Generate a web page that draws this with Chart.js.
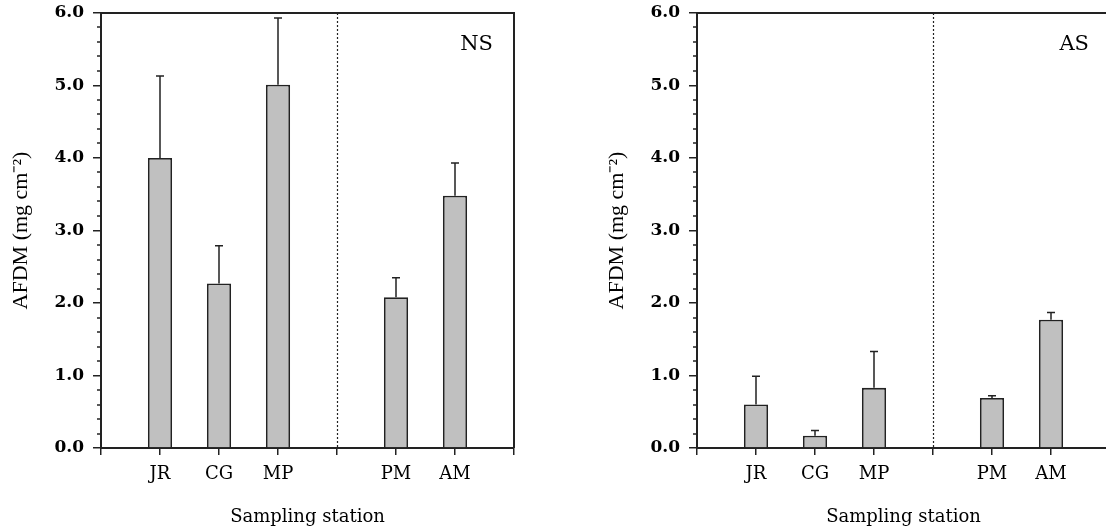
<!DOCTYPE html>
<html>
<head>
<meta charset="utf-8">
<script src="https://cdn.jsdelivr.net/npm/chart.js@4/dist/chart.umd.min.js"></script>
<style>
  body { margin: 0; background: #fff; overflow: hidden; width: 1106px; height: 532px; position: relative; }
  .panel { position: absolute; top: 0; width: 553px; height: 532px; }
</style>
</head>
<body>
<div class="panel" style="left:0"><canvas id="chartNS" width="553" height="532"></canvas></div>
<div class="panel" style="left:596px"><canvas id="chartAS" width="553" height="532"></canvas></div>
<script>
// stations on a 0..7 axis, gap at 4 splits the two groups
const stations = ["JR", "CG", "MP", "PM", "AM"]
const stationPos = [1, 2, 3, 5, 6]
const dividerAt = 4

const afdmNS = [4.00, 2.27, 5.01, 2.08, 3.48]
const sdNS = [1.13, 0.52, 0.92, 0.27, 0.45]
const afdmAS = [0.60, 0.17, 0.83, 0.69, 1.77]
const sdAS = [0.39, 0.07, 0.50, 0.03, 0.10]

const yMax = 6
const minorStep = 0.2

const ink = '#222'

const panelExtras = {
    id: 'panelExtras',
    afterDraw(chart, args, opts) {
        const ctx = chart.ctx
        const {left, right, top, bottom} = chart.chartArea
        const xs = chart.scales.x
        const ys = chart.scales.y
        ctx.save()

        // error bars (upper only)
        ctx.strokeStyle = ink
        ctx.lineWidth = 1.5
        const pts = chart.data.datasets[0].data
        pts.forEach((p, i) => {
            const px = xs.getPixelForValue(p.x)
            const y0 = ys.getPixelForValue(p.y)
            const y1 = ys.getPixelForValue(p.y + opts.sd[i])
            ctx.beginPath()
            ctx.moveTo(px, y0)
            ctx.lineTo(px, y1)
            ctx.moveTo(px - 4, y1)
            ctx.lineTo(px + 4, y1)
            ctx.stroke()
        })

        // frame top + right
        ctx.lineWidth = 2
        ctx.beginPath()
        ctx.moveTo(left, top)
        ctx.lineTo(right, top)
        ctx.lineTo(right, bottom)
        ctx.stroke()

        // minor y ticks
        ctx.lineWidth = 1.5
        for (let v = minorStep; v < yMax; v += minorStep) {
            if (Math.abs(v - Math.round(v)) < 1e-6) continue
            const py = Math.round(ys.getPixelForValue(v))
            ctx.beginPath()
            ctx.moveTo(left - 4, py)
            ctx.lineTo(left, py)
            ctx.stroke()
        }

        // dotted divider between groups
        const dx = Math.round(xs.getPixelForValue(dividerAt)) + 0.5
        ctx.lineWidth = 1.2
        ctx.setLineDash([2, 2])
        ctx.beginPath()
        ctx.moveTo(dx, top)
        ctx.lineTo(dx, bottom)
        ctx.stroke()
        ctx.setLineDash([])

        // panel name
        ctx.fillStyle = '#000'
        ctx.font = '21px "DejaVu Serif"'
        ctx.textAlign = 'right'
        ctx.textBaseline = 'middle'
        ctx.fillText(opts.name, right - 21, top + 32)

        ctx.restore()
    }
}

function buildChart(id, values, sd, name) {
    let points = values.map((v, i) => ({x: stationPos[i], y: v}))
    new Chart(document.getElementById(id), {
        type: 'bar',
        data: {
            datasets: [{
                data: points,
                backgroundColor: '#c0c0c0',
                borderColor: ink,
                borderWidth: 1.8,
                categoryPercentage: 1,
                barPercentage: 0.41
            }]
        },
        options: {
            responsive: false,
            animation: false,
            layout: {autoPadding: false, padding: {top: 13, right: 39, left: 0, bottom: 0}},
            plugins: {
                legend: {display: false},
                tooltip: {enabled: false},
                panelExtras: {sd: sd, name: name}
            },
            scales: {
                x: {
                    type: 'linear',
                    min: 0,
                    max: 7,
                    offset: false,
                    grid: {offset: false, drawOnChartArea: false, tickLength: 7, color: ink, lineWidth: 1.5},
                    border: {color: ink, width: 2},
                    ticks: {
                        stepSize: 1,
                        autoSkip: false,
                        maxRotation: 0,
                        padding: 9,
                        color: '#000',
                        font: {family: 'DejaVu Serif', size: 18},
                        callback: v => {
                            let k = stationPos.indexOf(v)
                            return k >= 0 ? stations[k] : ''
                        }
                    },
                    title: {
                        display: true,
                        text: 'Sampling station',
                        color: '#000',
                        font: {family: 'DejaVu Serif', size: 18},
                        padding: {top: 0, bottom: 4}
                    },
                    afterFit: s => { s.height = 84 }
                },
                y: {
                    min: 0,
                    max: yMax,
                    grid: {drawOnChartArea: false, tickLength: 8, color: ink, lineWidth: 1.5},
                    border: {color: ink, width: 2},
                    ticks: {
                        stepSize: 1,
                        padding: 9,
                        color: '#000',
                        font: {family: 'DejaVu Serif', size: 17, weight: 'bold'},
                        callback: v => v.toFixed(1)
                    },
                    title: {
                        display: true,
                        text: 'AFDM (mg cm⁻²)',
                        color: '#000',
                        font: {family: 'Liberation Serif', size: 22},
                        padding: {top: 8, bottom: 0}
                    },
                    afterFit: s => {
                        s.width = 101
                        // keep label half-heights from pushing the plot down
                        s.paddingTop = 0
                        s.paddingBottom = 0
                    }
                }
            }
        },
        plugins: [panelExtras]
    })
}

buildChart('chartNS', afdmNS, sdNS, 'NS')
buildChart('chartAS', afdmAS, sdAS, 'AS')
</script>
</body>
</html>
